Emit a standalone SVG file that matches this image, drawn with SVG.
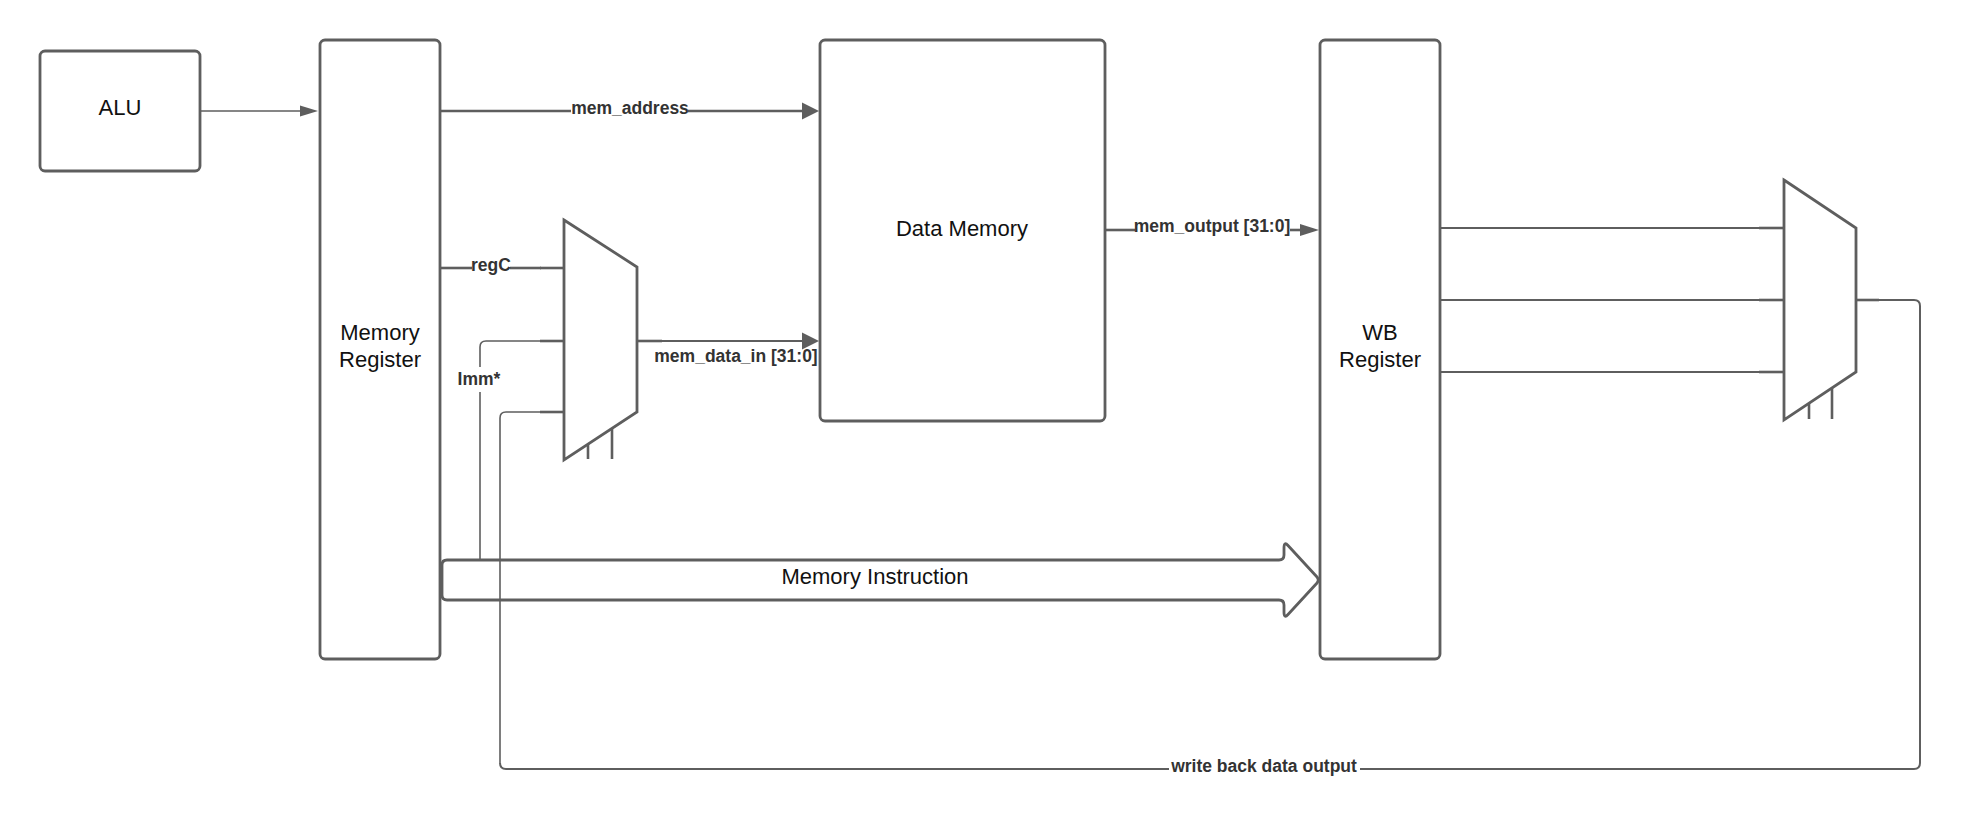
<svg xmlns="http://www.w3.org/2000/svg" width="1961" height="821" viewBox="0 0 1961 821">
<style>
.box{fill:#ffffff;stroke:#5e5e5e;stroke-width:2.8}
.mux{fill:#ffffff;stroke:#5e5e5e;stroke-width:2.8;stroke-linejoin:miter}
.stub{stroke:#5e5e5e;stroke-width:2.6;fill:none}
.ln{stroke:#5e5e5e;stroke-width:2;fill:none}
.thin{stroke:#5e5e5e;stroke-width:1.6;fill:none}
.thick{stroke:#5e5e5e;stroke-width:2.6;fill:none}
.head{fill:#5e5e5e;stroke:none}
.lbl{font-family:"Liberation Sans",Arial,sans-serif;font-size:22px;fill:#111111;text-anchor:middle}
.cl{font-family:"Liberation Sans",Arial,sans-serif;font-size:17.5px;font-weight:bold;fill:#333333;text-anchor:middle}
</style>
<rect width="1961" height="821" fill="#ffffff"/>
<g id="connectors">
  <line class="thin" x1="200" y1="111" x2="301" y2="111"/>
  <polygon class="head" points="300,105.5 318,111 300,116.5"/>
  <line class="thick" x1="440" y1="111" x2="571" y2="111"/>
  <line class="thick" x1="688" y1="111" x2="804" y2="111"/>
  <polygon class="head" points="802,102.5 819,111 802,119.5"/>
  <text class="cl" x="630" y="114">mem_address</text>
  <line class="thick" x1="440" y1="268" x2="472" y2="268"/>
  <line class="thick" x1="510" y1="268" x2="541" y2="268"/>
  <text class="cl" x="491" y="271">regC</text>
  <path class="thin" d="M480,560 V392"/>
  <path class="thin" d="M480,367 V347 Q480,341 486,341 H541"/>
  <text class="cl" x="479" y="385">Imm*</text>
  <line class="ln" x1="662" y1="341" x2="804" y2="341"/>
  <polygon class="head" points="802,332.5 819,341 802,349.5"/>
  <text class="cl" x="736" y="362">mem_data_in [31:0]</text>
  <line class="thick" x1="1105" y1="230" x2="1135" y2="230"/>
  <line class="thick" x1="1290" y1="230" x2="1301" y2="230"/>
  <polygon class="head" points="1300,224 1319,230 1300,236"/>
  <text class="cl" x="1212" y="232">mem_output [31:0]</text>
  <line class="ln" x1="1440" y1="228" x2="1760" y2="228"/>
  <line class="ln" x1="1440" y1="300" x2="1760" y2="300"/>
  <line class="ln" x1="1440" y1="372" x2="1760" y2="372"/>
  <path class="ln" d="M1879,300 H1914 Q1920,300 1920,306 V763 Q1920,769 1914,769 H1360"/>
  <path class="ln" d="M1169,769 H506 Q500,769 500,763"/>
  <text class="cl" x="1264" y="772">write back data output</text>
</g>
<g id="alu">
  <rect class="box" x="40" y="51" width="160" height="120" rx="5"/>
  <text class="lbl" x="120" y="115">ALU</text>
</g>
<g id="memory-register">
  <rect class="box" x="320" y="40" width="120" height="619" rx="5"/>
  <text class="lbl" x="380" y="340">Memory</text>
  <text class="lbl" x="380" y="367">Register</text>
</g>
<g id="data-memory">
  <rect class="box" x="820" y="40" width="285" height="381" rx="5"/>
  <text class="lbl" x="962" y="236">Data Memory</text>
</g>
<g id="wb-register">
  <rect class="box" x="1320" y="40" width="120" height="619" rx="5"/>
  <text class="lbl" x="1380" y="340">WB</text>
  <text class="lbl" x="1380" y="367">Register</text>
</g>
<g id="memory-instruction">
  <path class="box" d="M447,560 H1279 Q1284,560 1284,555 V548 Q1284,541 1288,545.5 L1317,577 Q1319.5,580 1317,583 L1288,614.5 Q1284,619 1284,612 V605 Q1284,600 1279,600 H447 Q442,600 442,595 V565 Q442,560 447,560 Z"/>
  <text class="lbl" x="875" y="584">Memory Instruction</text>
</g>
<g id="wb-feedback-line">
  <path class="thin" d="M500,763 V418 Q500,412 506,412 H541"/>
</g>
<g id="mux1">
  <polygon class="mux" points="564,220 637,267 637,412 564,460"/>
  <line class="stub" x1="540" y1="268" x2="564" y2="268"/>
  <line class="stub" x1="540" y1="341" x2="564" y2="341"/>
  <line class="stub" x1="540" y1="412" x2="564" y2="412"/>
  <line class="stub" x1="637" y1="341" x2="662" y2="341"/>
  <line class="stub" x1="588" y1="444" x2="588" y2="459"/>
  <line class="stub" x1="612" y1="428" x2="612" y2="459"/>
</g>
<g id="mux2">
  <polygon class="mux" points="1784,180 1856,228 1856,372 1784,420"/>
  <line class="stub" x1="1759" y1="228" x2="1784" y2="228"/>
  <line class="stub" x1="1759" y1="300" x2="1784" y2="300"/>
  <line class="stub" x1="1759" y1="372" x2="1784" y2="372"/>
  <line class="stub" x1="1856" y1="300" x2="1879" y2="300"/>
  <line class="stub" x1="1809" y1="403" x2="1809" y2="419"/>
  <line class="stub" x1="1832" y1="388" x2="1832" y2="419"/>
</g>
</svg>
